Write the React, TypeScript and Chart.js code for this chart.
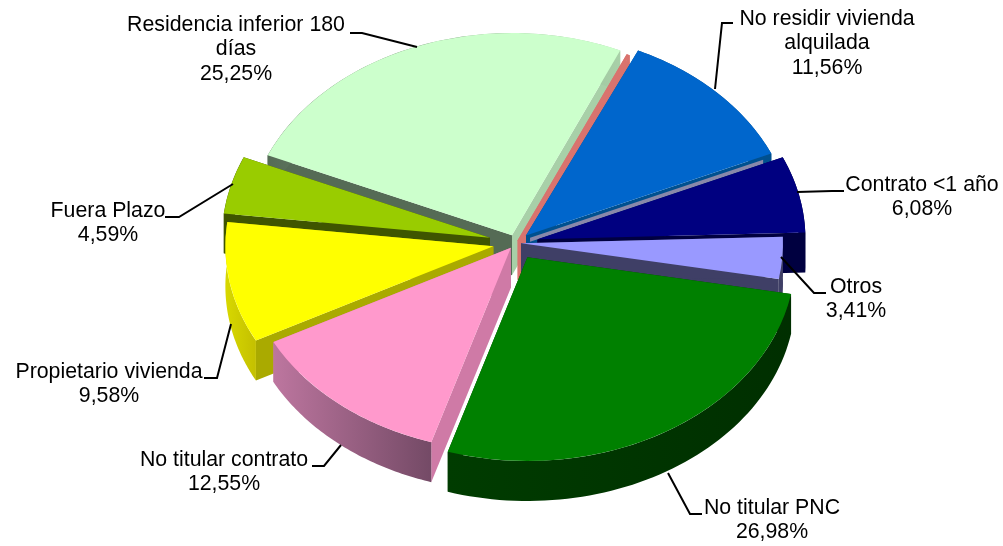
import React, { useEffect, useRef } from "react";
import { Chart, registerables } from "chart.js";

Chart.register(...registerables);

const categories = ["Sin etiqueta", "No residir vivienda alquilada", "Contrato <1 año", "Otros", "No titular PNC", "No titular contrato", "Propietario vivienda", "Fuera Plazo", "Residencia inferior 180 días"];
const shares = [0.2, 11.56, 6.08, 3.41, 26.98, 12.55, 9.58, 4.59, 25.25];
const topColors = ["#D9736E", "#0066CC", "#000080", "#9999FF", "#008000", "#FF99CC", "#FFFF00", "#99CC00", "#CCFFCC"];
const startWallColors = ["#D9736E", "#00508F", "#000040", "#3F3F66", "#004000", "#CF7AA6", "#AAAA00", "#3F5500", "#556B55"];
const endWallColors = ["#D9736E", "#00508F", "#000040", "#3F3F66", "#004000", "#CF7AA6", "#AAAA00", "#3F5500", "#A8D0A8"];
const outerLeft = ["#D9736E", "#00508F", "#000040", "#3F3F66", "#003C00", "#BD769F", "#D8D800", "#3F5500", "#556B55"];
const outerRight = ["#D9736E", "#00508F", "#000040", "#3F3F66", "#002F00", "#744A66", "#C4C000", "#3F5500", "#A8D0A8"];
const explode = [4, 14, 22, 5, 22, 8, 23, 27, 11];
const radiusTrim = [0, 0, 0, 6, 0, 0, 0, 0, 2];

const SQUASH = 0.76;
const DEPTH = 40;
const CENTER_Y = 243;

const callouts = [
  { lines: ["Residencia inferior 180", "días", "25,25%"], x: 236, y: 25, leader: [[350, 33], [362, 33], [417, 47]] },
  { lines: ["No residir vivienda", "alquilada", "11,56%"], x: 827, y: 19, leader: [[733, 23], [722, 23], [715, 89]] },
  { lines: ["Contrato <1 año", "6,08%"], x: 922, y: 185, leader: [[844, 191], [832, 191], [797, 192]] },
  { lines: ["Otros", "3,41%"], x: 856, y: 287, leader: [[826, 293], [814, 293], [781, 257]] },
  { lines: ["No titular PNC", "26,98%"], x: 772, y: 508, leader: [[702, 514], [690, 514], [668, 473]] },
  { lines: ["No titular contrato", "12,55%"], x: 224, y: 460, leader: [[312, 466], [324, 466], [341, 445]] },
  { lines: ["Propietario vivienda", "9,58%"], x: 109, y: 372, leader: [[204, 378], [217, 378], [231, 324]] },
  { lines: ["Fuera Plazo", "4,59%"], x: 108, y: 211, leader: [[165, 217], [179, 217], [233, 184]] },
];

const pie3d = {
  id: "pie3d",
  afterDatasetsUpdate(chart: any) {
    chart.getDatasetMeta(0).data.forEach((arc: any, i: number) => {
      const mid = (arc.startAngle + arc.endAngle) / 2;
      arc.x += Math.cos(mid) * explode[i];
      arc.y += Math.sin(mid) * explode[i];
      arc.outerRadius -= radiusTrim[i];
    });
  },
  beforeDatasetsDraw(chart: any) {
    const ctx = chart.ctx;
    const arcs = chart.getDatasetMeta(0).data as any[];
    const pt = (arc: any, a: number, r = arc.outerRadius) => [
      arc.x + r * Math.cos(a),
      CENTER_Y + SQUASH * (arc.y - CENTER_Y + r * Math.sin(a)),
    ];
    const order = arcs
      .map((_, i) => i)
      .sort((p, q) => {
        const mp = (arcs[p].startAngle + arcs[p].endAngle) / 2;
        const mq = (arcs[q].startAngle + arcs[q].endAngle) / 2;
        return Math.sin(mp) - Math.sin(mq);
      });
    for (const i of order) {
      const arc = arcs[i];
      const apex = pt(arc, 0, 0);
      const s = pt(arc, arc.startAngle);
      const e = pt(arc, arc.endAngle);
      const quad = (p: number[], q: number[], color: string) => {
        ctx.beginPath();
        ctx.moveTo(p[0], p[1]);
        ctx.lineTo(q[0], q[1]);
        ctx.lineTo(q[0], q[1] + DEPTH);
        ctx.lineTo(p[0], p[1] + DEPTH);
        ctx.closePath();
        ctx.fillStyle = color;
        ctx.fill();
      };
      quad(apex, e, endWallColors[i]);
      quad(apex, s, startWallColors[i]);
      const steps = 60;
      const pts: number[][] = [];
      for (let n = 0; n <= steps; n++) {
        pts.push(pt(arc, arc.startAngle + ((arc.endAngle - arc.startAngle) * n) / steps));
      }
      const xs = pts.map((p) => p[0]);
      const g = ctx.createLinearGradient(Math.min(...xs), 0, Math.max(...xs), 0);
      g.addColorStop(0, outerLeft[i]);
      g.addColorStop(1, outerRight[i]);
      ctx.beginPath();
      pts.forEach((p, n) => (n ? ctx.lineTo(p[0], p[1]) : ctx.moveTo(p[0], p[1])));
      [...pts].reverse().forEach((p) => ctx.lineTo(p[0], p[1] + DEPTH));
      ctx.closePath();
      ctx.fillStyle = g;
      ctx.fill();
    }
    // pale edge showing behind the navy slice
    const navy = arcs[2];
    const a0 = pt(navy, 0, 0);
    const b0 = pt(navy, navy.startAngle);
    const f = (t: number) => [a0[0] + (b0[0] - a0[0]) * t, a0[1] + (b0[1] - a0[1]) * t];
    const p0 = f(-0.03);
    const p1 = f(0.92);
    ctx.beginPath();
    ctx.moveTo(p0[0], p0[1]);
    ctx.lineTo(p1[0], p1[1]);
    ctx.lineTo(p1[0], p1[1] - 4);
    ctx.lineTo(p0[0], p0[1] - 4);
    ctx.closePath();
    ctx.fillStyle = "#8888AA";
    ctx.fill();

    ctx.save();
    ctx.translate(0, CENTER_Y);
    ctx.scale(1, SQUASH);
    ctx.translate(0, -CENTER_Y);
  },
  afterDatasetsDraw(chart: any) {
    chart.ctx.restore();
  },
  afterDraw(chart: any) {
    const ctx = chart.ctx;
    ctx.save();
    ctx.strokeStyle = "#000";
    ctx.lineWidth = 2;
    ctx.lineJoin = "miter";
    ctx.fillStyle = "#000";
    ctx.font = '21.3px "Liberation Sans", Arial, sans-serif';
    ctx.textAlign = "center";
    ctx.textBaseline = "middle";
    for (const c of callouts) {
      ctx.beginPath();
      c.leader.forEach((p, n) => (n ? ctx.lineTo(p[0], p[1]) : ctx.moveTo(p[0], p[1])));
      ctx.stroke();
      c.lines.forEach((t, n) => ctx.fillText(t, c.x, c.y + n * 24.5));
    }
    ctx.restore();
  },
};

export default function App() {
  const ref = useRef<HTMLCanvasElement>(null);
  useEffect(() => {
    const chart = new Chart(ref.current!, {
      type: "pie",
      data: {
        labels: categories,
        datasets: [
          {
            data: shares,
            backgroundColor: topColors,
            borderWidth: 0,
            clip: false,
          } as any,
        ],
      },
      options: {
        animation: false,
        responsive: false,
        devicePixelRatio: 1,
        rotation: 24,
        radius: 268,
        layout: { padding: { left: 29, bottom: 60 } },
        plugins: { legend: { display: false }, tooltip: { enabled: false } },
      },
      plugins: [pie3d],
    } as any);
    return () => chart.destroy();
  }, []);
  return (
    <canvas
      ref={ref}
      width={1003}
      height={546}
      style={{ position: "fixed", left: 0, top: 0, display: "block", width: 1003, height: 546 }}
    />
  );
}
